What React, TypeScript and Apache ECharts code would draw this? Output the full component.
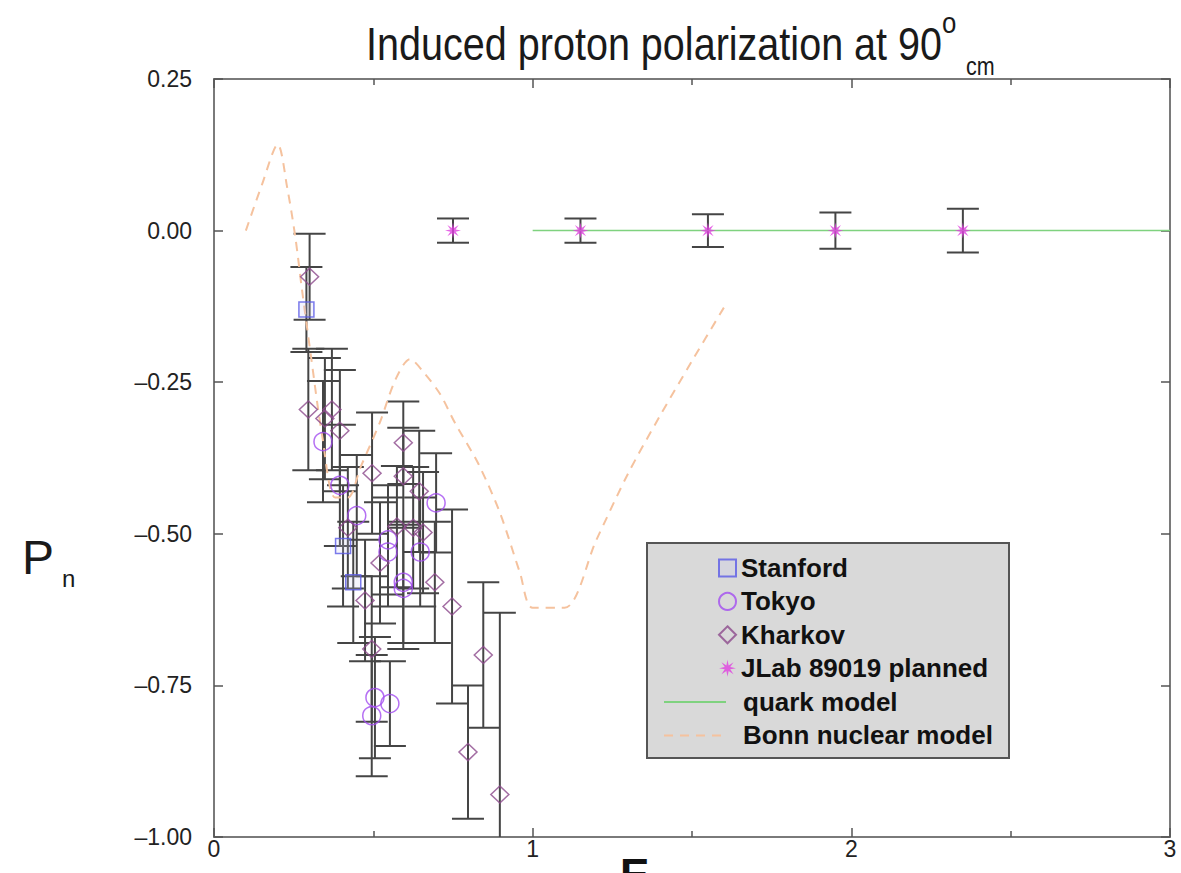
import React, { useEffect, useRef } from 'react';
import * as echarts from 'echarts';

// [E, P, error]
const stanford: number[][] = [
  [0.29, -0.13, 0.07],
  [0.405, -0.52, 0.1],
  [0.437, -0.58, 0.1],
];
const tokyo: number[][] = [
  [0.342, -0.348, 0.1],
  [0.395, -0.42, 0.1],
  [0.448, -0.47, 0.1],
  [0.546, -0.51, 0.09],
  [0.546, -0.53, 0.09],
  [0.647, -0.53, 0.09],
  [0.697, -0.449, 0.082],
  [0.594, -0.58, 0.1],
  [0.594, -0.59, 0.1],
  [0.505, -0.77, 0.1],
  [0.552, -0.78, 0.07],
  [0.495, -0.8, 0.1],
];
const kharkov: number[][] = [
  [0.3, -0.076, 0.071],
  [0.296, -0.295, 0.1],
  [0.37, -0.295, 0.1],
  [0.348, -0.31, 0.1],
  [0.395, -0.33, 0.1],
  [0.594, -0.35, 0.068],
  [0.496, -0.4, 0.1],
  [0.594, -0.405, 0.08],
  [0.644, -0.43, 0.1],
  [0.42, -0.49, 0.1],
  [0.574, -0.488, 0.1],
  [0.625, -0.49, 0.1],
  [0.656, -0.498, 0.1],
  [0.521, -0.548, 0.1],
  [0.693, -0.58, 0.1],
  [0.474, -0.61, 0.1],
  [0.747, -0.62, 0.16],
  [0.495, -0.69, 0.12],
  [0.845, -0.7, 0.12],
  [0.797, -0.86, 0.11],
  [0.897, -0.93, 0.3],
];
const jlab: number[][] = [
  [0.75, 0, 0.02],
  [1.15, 0, 0.02],
  [1.55, 0, 0.027],
  [1.95, 0, 0.03],
  [2.35, 0, 0.036],
];
const quarkModel: number[][] = [
  [1.0, 0],
  [3.0, 0],
];
const bonnModel: number[][] = [
  [0.1, 0.0],
  [0.15, 0.075],
  [0.2, 0.142],
  [0.23, 0.07],
  [0.255, -0.01],
  [0.276, -0.097],
  [0.305, -0.21],
  [0.34, -0.34],
  [0.38, -0.44],
  [0.42, -0.44],
  [0.46, -0.39],
  [0.52, -0.317],
  [0.57, -0.245],
  [0.615, -0.212],
  [0.66, -0.235],
  [0.71, -0.27],
  [0.756, -0.317],
  [0.83, -0.385],
  [0.897, -0.465],
  [0.96, -0.564],
  [1.0, -0.622],
  [1.1, -0.622],
  [1.2, -0.51],
  [1.3, -0.4],
  [1.4, -0.305],
  [1.5, -0.215],
  [1.6, -0.127],
];
const xTickValues = [0, 1, 2, 3];
const yTickValues = [0.25, 0, -0.25, -0.5, -0.75, -1.0];

const starPath =
  'path://M20 10 L13.23 11.34 L17.07 17.07 L11.34 13.23 L10 20 L8.66 13.23 L2.93 17.07 L6.77 11.34 L0 10 L6.77 8.66 L2.93 2.93 L8.66 6.77 L10 0 L11.34 6.77 L17.07 2.93 L13.23 8.66 Z';

const FONT = '"Liberation Sans", Arial, Helvetica, sans-serif';

export default function App() {
  const ref = useRef<HTMLDivElement>(null);
  useEffect(() => {
    if (!ref.current) return;
    const chart = echarts.init(ref.current, null, { renderer: 'svg' });
    const errorData = [...stanford, ...tokyo, ...kharkov, ...jlab];
    const axisLineStyle = { color: '#7a7a7a', width: 2 };
    const tickStyle = { color: '#555', width: 1.5 };
    const fmtY = (v: number) => (v < 0 ? '–' : '') + Math.abs(v).toFixed(2);
    const commonX = {
      type: 'value',
      min: xTickValues[0],
      max: xTickValues[xTickValues.length - 1],
      interval: 1,
      splitLine: { show: false },
      minorSplitLine: { show: false },
      axisLine: { show: true, onZero: false, lineStyle: axisLineStyle },
      axisTick: { show: true, inside: true, length: 9, lineStyle: tickStyle },
      minorTick: { show: true, splitNumber: 2, length: 6, lineStyle: tickStyle },
    };
    const commonY = {
      type: 'value',
      min: yTickValues[yTickValues.length - 1],
      max: yTickValues[0],
      interval: 0.25,
      splitLine: { show: false },
      axisLine: { show: true, onZero: false, lineStyle: axisLineStyle },
      axisTick: { show: true, inside: true, length: 9, lineStyle: tickStyle },
    };
    const option: any = {
      animation: false,
      backgroundColor: '#ffffff',
      grid: { left: 214, right: 11, top: 79, bottom: 36, containLabel: false },
      xAxis: [
        {
          ...commonX,
          position: 'bottom',
          axisLabel: { fontSize: 23, color: '#222', margin: 0, fontFamily: FONT },
        },
        { ...commonX, position: 'top', axisLabel: { show: false } },
      ],
      yAxis: [
        {
          ...commonY,
          position: 'left',
          axisLabel: { fontSize: 23, color: '#222', margin: 22, fontFamily: FONT, formatter: fmtY },
        },
        { ...commonY, position: 'right', axisLabel: { show: false } },
      ],
      legend: [
        {
          data: ['Stanford', 'Tokyo', 'Kharkov', 'JLab 89019 planned'],
          orient: 'vertical',
          left: 718,
          top: 555,
          padding: 0,
          itemWidth: 17,
          itemHeight: 17,
          itemGap: 7.4,
          selectedMode: false,
          textStyle: { fontSize: 26, lineHeight: 26, fontWeight: 'bold', color: '#111', fontFamily: FONT },
        },
        {
          data: ['quark model', 'Bonn nuclear model'],
          orient: 'vertical',
          left: 663,
          top: 689,
          padding: 0,
          itemWidth: 62,
          itemHeight: 14,
          itemGap: 7.4,
          selectedMode: false,
          itemStyle: { opacity: 0, borderWidth: 0 },
          textStyle: {
            fontSize: 26,
            lineHeight: 26,
            fontWeight: 'bold',
            color: '#111',
            fontFamily: FONT,
            padding: [0, 0, 0, 12],
          },
        },
      ],
      graphic: [
        {
          type: 'rect',
          shape: { x: 647, y: 543, width: 362, height: 215 },
          style: { fill: '#d9d9d9', stroke: '#555', lineWidth: 2 },
          z: 3,
        },
        {
          type: 'text',
          x: 366,
          y: 44,
          scaleX: 0.86,
          style: {
            text: 'Induced proton polarization at 90',
            fontSize: 46,
            fontFamily: FONT,
            fill: '#1a1a1a',
            textAlign: 'left',
            textVerticalAlign: 'middle',
          },
        },
        {
          type: 'text',
          x: 942,
          y: 23,
          scaleX: 0.86,
          style: { text: 'o', fontSize: 30, fontFamily: FONT, fill: '#1a1a1a', textAlign: 'left', textVerticalAlign: 'middle' },
        },
        {
          type: 'text',
          x: 966,
          y: 66,
          scaleX: 0.86,
          style: { text: 'cm', fontSize: 25, fontFamily: FONT, fill: '#1a1a1a', textAlign: 'left', textVerticalAlign: 'middle' },
        },
        {
          type: 'text',
          x: 22,
          y: 557,
          style: { text: 'P', fontSize: 48, fontFamily: FONT, fill: '#1a1a1a', textAlign: 'left', textVerticalAlign: 'middle' },
        },
        {
          type: 'text',
          x: 62,
          y: 578,
          style: { text: 'n', fontSize: 24, fontFamily: FONT, fill: '#1a1a1a', textAlign: 'left', textVerticalAlign: 'middle' },
        },
        {
          type: 'text',
          x: 620,
          y: 874,
          style: { text: 'E', fontSize: 44, fontWeight: 'bold', fontFamily: FONT, fill: '#111', textAlign: 'left', textVerticalAlign: 'middle' },
        },
      ],
      series: [
        {
          name: 'errors',
          type: 'custom',
          clip: true,
          z: 1,
          data: errorData,
          renderItem: (params: any, api: any) => {
            const x = api.value(0);
            const y = api.value(1);
            const e = api.value(2);
            const top = api.coord([x, y + e]);
            const bot = api.coord([x, y - e]);
            const hw = 16;
            const style = { stroke: '#454545', lineWidth: 2 };
            return {
              type: 'group',
              children: [
                { type: 'line', shape: { x1: top[0], y1: top[1], x2: bot[0], y2: bot[1] }, style },
                { type: 'line', shape: { x1: top[0] - hw, y1: top[1], x2: top[0] + hw, y2: top[1] }, style },
                { type: 'line', shape: { x1: bot[0] - hw, y1: bot[1], x2: bot[0] + hw, y2: bot[1] }, style },
              ],
            };
          },
        },
        {
          name: 'quark model',
          type: 'line',
          data: quarkModel,
          symbol: 'none',
          z: 2,
          lineStyle: { color: '#7fd27f', width: 1.5 },
          itemStyle: { color: '#7fd27f' },
        },
        {
          name: 'Bonn nuclear model',
          type: 'line',
          data: bonnModel,
          symbol: 'none',
          smooth: 0.3,
          z: 2,
          lineStyle: { color: '#f5c29e', width: 2, type: [9, 7] },
          itemStyle: { color: '#f5c29e' },
        },
        {
          name: 'Stanford',
          type: 'scatter',
          data: stanford.map((d) => [d[0], d[1]]),
          symbol: 'rect',
          symbolSize: 15,
          z: 3,
          itemStyle: { color: 'rgba(200,200,245,0.25)', borderColor: '#5a5ae6', borderWidth: 1.5 },
        },
        {
          name: 'Tokyo',
          type: 'scatter',
          data: tokyo.map((d) => [d[0], d[1]]),
          symbol: 'circle',
          symbolSize: 18,
          z: 3,
          itemStyle: { color: 'rgba(255,255,255,0)', borderColor: '#a24cf0', borderWidth: 1.5 },
        },
        {
          name: 'Kharkov',
          type: 'scatter',
          data: kharkov.map((d) => [d[0], d[1]]),
          symbol: 'diamond',
          symbolSize: [18, 17],
          z: 3,
          itemStyle: { color: 'rgba(255,255,255,0)', borderColor: '#8c4a8c', borderWidth: 1.5 },
        },
        {
          name: 'JLab 89019 planned',
          type: 'scatter',
          data: jlab.map((d) => [d[0], d[1]]),
          symbol: starPath,
          symbolSize: 16,
          z: 3,
          itemStyle: { color: '#e040e0' },
        },
      ],
    };
    chart.setOption(option);
    return () => chart.dispose();
  }, []);
  return <div ref={ref} style={{ position: 'fixed', left: 0, top: 0, width: 1181, height: 873 }} />;
}
